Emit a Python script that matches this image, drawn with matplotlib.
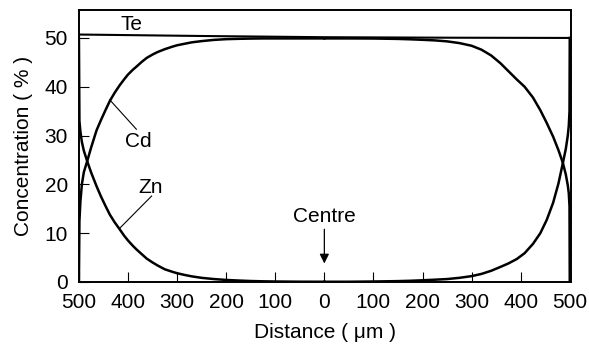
import matplotlib.pyplot as plt

plt.rcParams['font.family'] = ['Liberation Sans', 'DejaVu Sans']

# distance from centre (negative = left half), concentration in %
x_left = [-500, -499, -497, -494, -490, -483, -475, -464, -455, -445, -437,
          -427, -417, -408, -400, -390, -383, -372, -362, -350, -340, -325,
          -310, -300, -285, -270, -250, -225, -200, -175, -150, -125, -100,
          -50, 0]
zn_left = [50, 33, 30.8, 28.7, 26.9, 24.7, 22.4, 19.6, 17.5, 15.4, 13.8,
           12.2, 10.8, 9.5, 8.5, 7.4, 6.7, 5.7, 4.8, 4.0, 3.4, 2.6,
           2.1, 1.8, 1.45, 1.15, 0.85, 0.6, 0.42, 0.3, 0.2, 0.14, 0.1,
           0.06, 0.05]
cd_left = [0, 12.5, 16.5, 20.0, 22.5, 24.8, 27.6, 31.1, 33.2, 35.4, 37.1,
           38.8, 40.3, 41.5, 42.5, 43.5, 44.1, 45.1, 45.9, 46.6, 47.1, 47.7,
           48.2, 48.5, 48.8, 49.1, 49.35, 49.6, 49.75, 49.82, 49.87, 49.9, 49.9,
           49.9, 49.9]

x_right = [0, 50, 100, 150, 175, 200, 225, 250, 275, 300, 320, 340, 359,
           375, 392, 408, 425, 440, 453, 466, 477, 486, 492, 496, 498,
           499.5, 500]
zn_right = [0.05, 0.05, 0.1, 0.18, 0.25, 0.35, 0.47, 0.6, 0.85, 1.2, 1.65,
            2.3, 3.1, 3.8, 4.7, 5.9, 7.8, 10.0, 12.7, 16.2, 20.2, 24.4,
            27.3, 30.0, 32.0, 35.0, 50]
cd_right = [49.9, 49.9, 49.88, 49.8, 49.72, 49.62, 49.5, 49.3, 48.95, 48.4,
            47.6, 46.4, 44.8, 43.2, 41.5, 40.0, 37.8, 35.2, 32.6, 29.8, 27.0,
            24.4, 22.0, 19.8, 18.2, 15.5, 0]

te_x = [-500, -250, 0, 250, 500]
te_y = [50.7, 50.4, 50.15, 50.05, 50.0]

xticks = [-500, -400, -300, -200, -100, 0, 100, 200, 300, 400, 500]
xticklabels = ['500', '400', '300', '200', '100', '0', '100', '200', '300', '400', '500']
yticks = [0, 10, 20, 30, 40, 50]

fig = plt.figure(figsize=(5.89, 3.49), dpi=100)
ax = fig.add_axes([0.134, 0.192, 0.835, 0.779])

lw = 1.8
ax.plot(x_left, zn_left, color='black', lw=lw, solid_joinstyle='round')
ax.plot(x_left, cd_left, color='black', lw=lw, solid_joinstyle='round')
ax.plot(x_right, zn_right, color='black', lw=lw, solid_joinstyle='round')
ax.plot(x_right, cd_right, color='black', lw=lw, solid_joinstyle='round')
ax.plot(te_x, te_y, color='black', lw=1.5)

ax.set_xlim(-500, 502)
ax.set_ylim(0, 55.7)
ax.set_xticks(xticks)
ax.set_xticklabels(xticklabels)
ax.set_yticks(yticks)
ax.tick_params(direction='in', length=7.5, width=0.8, pad=8, labelsize=15)
for s in ax.spines.values():
    s.set_linewidth(1.4)

# curve labels with leader lines
ax.text(-392, 52.8, 'Te', ha='center', va='center', fontsize=15)
ax.text(-378, 28.7, 'Cd', ha='center', va='center', fontsize=15)
ax.plot([-437, -383], [37.3, 31.3], color='black', lw=0.8)
ax.text(-353, 19.3, 'Zn', ha='center', va='center', fontsize=15)
ax.plot([-352, -417], [17.6, 11.0], color='black', lw=0.8)

ax.text(0, 13.5, 'Centre', ha='center', va='center', fontsize=15)
ax.annotate('', xy=(0, 3.8), xytext=(0, 10.8),
            arrowprops=dict(arrowstyle='-|>', color='black', lw=0.9,
                            mutation_scale=14, shrinkA=0, shrinkB=0))

ax.set_xlabel('Distance ( μm )', fontsize=15, labelpad=8)
ax.set_ylabel('Concentration ( % )', fontsize=15, labelpad=8)

fig.savefig('out.png', dpi=100)
